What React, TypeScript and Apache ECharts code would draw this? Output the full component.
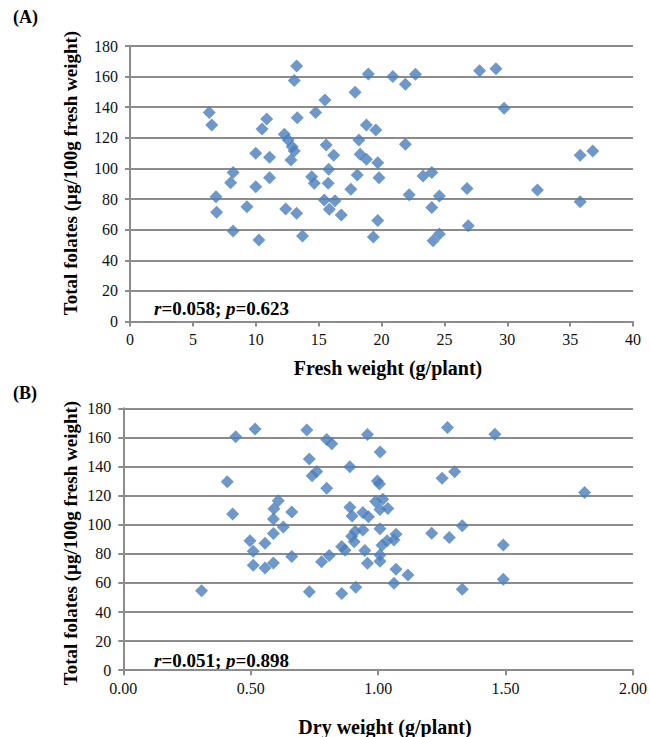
import React, { useEffect, useRef } from "react";
import * as echarts from "echarts";

// Panel A: fresh weight (g/plant) vs total folates
const freshWeight = [
  6.3, 6.5, 6.84, 6.89, 8.2, 8.0, 8.2, 9.3, 10.0, 10.0, 10.25, 10.5, 10.87, 11.1, 11.1,
  12.27, 12.58, 12.9, 13.06, 12.8, 12.38, 13.06, 13.25, 13.3, 13.25, 13.72, 14.45, 14.65,
  14.76, 15.5, 15.6, 16.2, 15.8, 15.76, 15.45, 15.85, 16.3, 16.8, 17.56, 17.9, 18.07, 18.2,
  18.3, 18.8, 18.8, 18.95, 19.55, 19.7, 19.8, 19.7, 19.35, 20.9, 21.9, 21.9, 22.2, 22.7,
  23.3, 24.0, 24.0, 24.1, 24.6, 24.6, 26.8, 26.9, 27.8, 29.1, 29.75, 32.4, 35.8, 36.8, 35.8,
];
const folatesA = [
  136.5, 128.4, 81.6, 71.4, 97.3, 90.7, 59.2, 75, 110, 88.1, 53.3, 125.8, 132.3, 107.3, 94,
  122.3, 118.6, 114.2, 111.4, 105.6, 73.5, 157.4, 167, 133.2, 70.7, 55.9, 94.6, 90.3,
  136.5, 144.7, 115.3, 108.6, 99.5, 90.3, 79.4, 73.3, 79, 69.6, 86.5, 149.8, 95.8, 118.6,
  109.3, 106, 128.4, 161.7, 125.1, 103.8, 94, 66, 55.3, 160, 155, 115.8, 82.9, 161.5,
  95.1, 97.3, 74.6, 52.8, 57.2, 82, 87, 62.6, 163.9, 165.2, 139.3, 86, 108.6, 111.4, 78.3,
];

// Panel B: dry weight (g/plant) vs total folates
const dryWeight = [
  0.307, 0.408, 0.429, 0.441, 0.517, 0.497, 0.51, 0.51, 0.556, 0.556, 0.589, 0.589, 0.589,
  0.591, 0.608, 0.628, 0.661, 0.661, 0.72, 0.73, 0.73, 0.741, 0.759, 0.778, 0.798, 0.798,
  0.818, 0.808, 0.857, 0.857, 0.87, 0.889, 0.889, 0.896, 0.898, 0.906, 0.912, 0.91, 0.94,
  0.94, 0.948, 0.958, 0.958, 0.962, 0.997, 1.005, 1.008, 1.007, 1.007, 1.007, 0.99, 1.007,
  1.018, 1.038, 1.015, 1.035, 1.062, 1.062, 1.07, 1.07, 1.117, 1.21, 1.251, 1.279, 1.272,
  1.3, 1.33, 1.33, 1.458, 1.491, 1.491, 1.81,
];
const folatesB = [
  54.6, 129.6, 107.4, 160.5, 165.8, 89, 81.7, 72.2, 70.2, 87.3, 73.7, 94, 104,
  111, 116.4, 98.4, 78.2, 108.7, 165.1, 145.2, 54, 133.7, 136.6, 74.6, 125, 158.5,
  155.6, 78.9, 52.8, 85, 82.5, 139.9, 112, 92, 106, 88.3, 57, 95.5, 96.3,
  108.3, 82.3, 162, 73.5, 105.5, 130, 128, 150, 97.3, 74.8, 79.2, 116, 110.5,
  117.5, 111.2, 85.8, 89, 89.4, 59.7, 69.3, 93.5, 65.4, 94.1, 132, 91.2, 166.8,
  136.4, 99.2, 55.6, 162.2, 86, 62.5, 122.2,
];

const panelLabels = ["(A)", "(B)"];
const xTitles = ["Fresh weight (g/plant)", "Dry weight (g/plant)"];
const yTitle = "Total folates (µg/100g fresh weight)";
const statsA = ["0.058", "0.623"];
const statsB = ["0.051", "0.898"];

const FONT = "Liberation Serif";
const GRID_COLOR = "#8c8c8c";
const MARK_COLOR = "#4a7ebb";

function zip(xs: number[], ys: number[]) {
  return xs.map((x, i) => [x, ys[i]]);
}

export default function App() {
  const ref = useRef<HTMLDivElement>(null);

  useEffect(() => {
    if (!ref.current) return;
    const chart = echarts.init(ref.current, undefined, { renderer: "svg" });

    const axisLabel = { fontFamily: FONT, fontSize: 16, color: "#111" };
    const lineStyle = { color: GRID_COLOR, width: 2 };

    const yAxisCommon = {
      type: "value",
      min: 0,
      max: 180,
      interval: 20,
      axisLine: { show: true, lineStyle },
      axisTick: { show: true, length: 5, lineStyle },
      splitLine: { show: true, lineStyle },
      axisLabel: { ...axisLabel, margin: 12 },
    };

    const statText = (vals: string[]) =>
      `{i|r}{b|=${vals[0]}; }{i|p}{b|=${vals[1]}}`;
    const rich = {
      i: { fontFamily: FONT, fontSize: 19, fontWeight: "bold", fontStyle: "italic", fill: "#000" },
      b: { fontFamily: FONT, fontSize: 19, fontWeight: "bold", fill: "#000" },
    };

    const txt = (text: string, size: number, extra: any) => ({
      type: "text",
      ...extra,
      style: {
        text,
        fontFamily: FONT,
        fontSize: size,
        fontWeight: "bold",
        fill: "#000",
        align: extra.align || "center",
        verticalAlign: "middle",
      },
    });

    chart.setOption({
      animation: false,
      grid: [
        { left: 130, top: 46, width: 503, height: 275.6 },
        { left: 123.3, top: 408.3, width: 509.7, height: 261.9 },
      ],
      xAxis: [
        {
          type: "value",
          gridIndex: 0,
          min: 0,
          max: 40,
          interval: 5,
          axisLine: { show: true, onZero: false, lineStyle },
          axisTick: { show: true, length: 5, lineStyle },
          splitLine: { show: false },
          axisLabel: { ...axisLabel, margin: 10 },
        },
        {
          type: "value",
          gridIndex: 1,
          min: 0,
          max: 2,
          interval: 0.5,
          axisLine: { show: true, onZero: false, lineStyle },
          axisTick: { show: true, length: 5, lineStyle },
          splitLine: { show: false },
          axisLabel: {
            ...axisLabel,
            margin: 10,
            formatter: (v: number) => v.toFixed(2),
          },
        },
      ],
      yAxis: [
        { ...yAxisCommon, gridIndex: 0 },
        { ...yAxisCommon, gridIndex: 1 },
      ],
      series: [
        {
          type: "scatter",
          xAxisIndex: 0,
          yAxisIndex: 0,
          symbol: "diamond",
          symbolSize: 13,
          itemStyle: { color: MARK_COLOR },
          data: zip(freshWeight, folatesA),
        },
        {
          type: "scatter",
          xAxisIndex: 1,
          yAxisIndex: 1,
          symbol: "diamond",
          symbolSize: 13,
          itemStyle: { color: MARK_COLOR },
          data: zip(dryWeight, folatesB),
        },
      ],
      graphic: [
        txt(panelLabels[0], 18, { x: 13, y: 17, align: "left" }),
        txt(panelLabels[1], 18, { x: 13, y: 393, align: "left" }),
        txt(yTitle, 19, { x: 70, y: 173, rotation: Math.PI / 2 }),
        txt(yTitle, 19, { x: 70, y: 543, rotation: Math.PI / 2 }),
        txt(xTitles[0], 20, { x: 388, y: 368 }),
        txt(xTitles[1], 20, { x: 385, y: 727 }),
        {
          type: "text",
          x: 154,
          y: 308,
          style: { text: statText(statsA), rich, verticalAlign: "middle" },
        },
        {
          type: "text",
          x: 154,
          y: 660,
          style: { text: statText(statsB), rich, verticalAlign: "middle" },
        },
      ],
    });

    return () => chart.dispose();
  }, []);

  return (
    <div
      ref={ref}
      style={{ position: "absolute", left: 0, top: 0, width: 650, height: 737, background: "#fff" }}
    />
  );
}
